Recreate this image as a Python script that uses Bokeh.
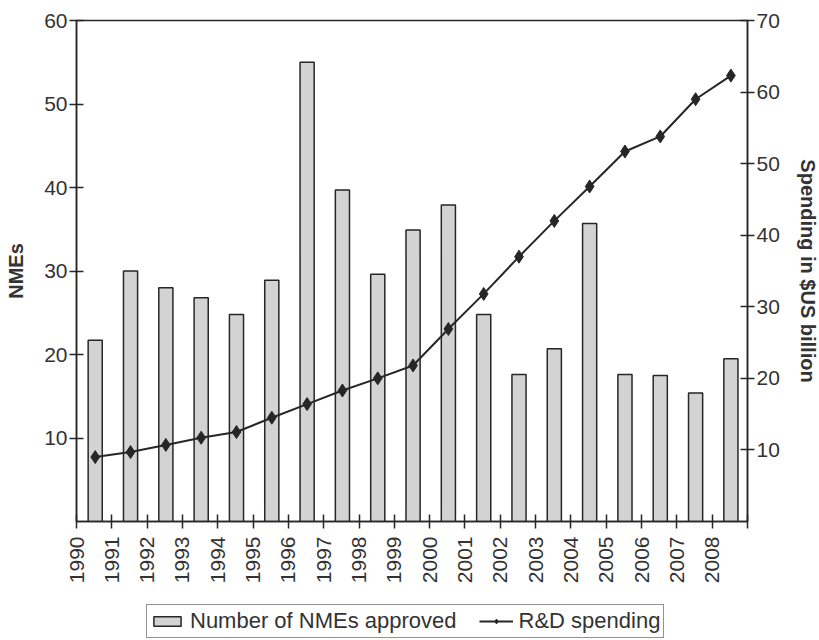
from math import pi
from bokeh.plotting import figure
from bokeh.layouts import column
from bokeh.models import (Range1d, LinearAxis, FixedTicker, Legend, LegendItem,
                          ColumnDataSource)
from bokeh.transform import dodge
from bokeh.embed import file_html
from bokeh.resources import INLINE

# ---- data ----
years = list(range(1990, 2009))
nmes_approved = [21.7, 30.0, 28.0, 26.8, 24.8, 28.9, 55.0, 39.7, 29.6, 34.9,
                 37.9, 24.8, 17.6, 20.7, 35.7, 17.6, 17.5, 15.4, 19.5]
rd_spending = [9.0, 9.7, 10.7, 11.7, 12.5, 14.5, 16.4, 18.3, 20.0, 21.8,
               26.9, 31.8, 37.0, 42.0, 46.8, 51.7, 53.8, 59.0, 62.3]
x_ticks = list(range(1990, 2010))
x_tick_labels = [str(y) for y in years] + [""]
left_ticks = [10, 20, 30, 40, 50, 60]
right_ticks = [10, 20, 30, 40, 50, 60, 70]
series_names = ["Number of NMEs approved", "R&D spending"]

FONT = "Liberation Sans"
INK = "#262626"
BAR_FILL = "#d3d3d3"

src = ColumnDataSource(dict(year=years, nmes=nmes_approved, spend=rd_spending))

p = figure(frame_width=671, frame_height=501, x_range=Range1d(1990, 2009),
           y_range=Range1d(0, 60), output_backend="svg", toolbar_location=None,
           min_border_left=76, min_border_right=71, min_border_top=20,
           min_border_bottom=81)
p.extra_y_ranges = {"spend": Range1d(0, 70)}

p.xgrid.visible = False
p.ygrid.visible = False
p.outline_line_color = INK
p.outline_line_width = 1.5

bar_style = dict(fill_color=BAR_FILL, line_color=INK, line_width=1.5)
line_style = dict(line_color=INK, line_width=2)
pt_style = dict(marker="diamond", fill_color=INK, line_color=INK)

p.vbar(x=dodge("year", 0.53), top="nmes", width=0.4, source=src, **bar_style)
p.line(x=dodge("year", 0.53), y="spend", y_range_name="spend", source=src,
       **line_style)
p.scatter(x=dodge("year", 0.53), y="spend", y_range_name="spend", source=src,
          size=13, **pt_style)

def style_axis(ax):
    ax.axis_line_color = INK
    ax.axis_line_width = 1.5
    ax.major_tick_line_color = INK
    ax.major_tick_line_width = 1.5
    ax.major_tick_in = 7
    ax.major_tick_out = 7
    ax.minor_tick_line_color = None
    ax.major_label_text_font = FONT
    ax.major_label_text_font_size = "21px"
    ax.major_label_text_color = "#333333"
    ax.axis_label_text_font = FONT
    ax.axis_label_text_font_size = "20px"
    ax.axis_label_text_font_style = "bold"
    ax.axis_label_text_color = "#333333"

# x axis
xa = p.xaxis[0]
style_axis(xa)
xa.ticker = FixedTicker(ticks=x_ticks)
xa.major_label_overrides = {t: l for t, l in zip(x_ticks, x_tick_labels)}
xa.major_label_orientation = pi / 2
xa.major_label_standoff = 8

# left axis
ya = p.yaxis[0]
style_axis(ya)
ya.ticker = FixedTicker(ticks=left_ticks)
ya.axis_label = "NMEs"
ya.major_label_standoff = 2
ya.axis_label_standoff = 14

# right axis
ra = LinearAxis(y_range_name="spend", axis_label="Spending in $US billion")
style_axis(ra)
ra.ticker = FixedTicker(ticks=right_ticks)
ra.major_label_standoff = 2
ra.axis_label_standoff = 14
p.add_layout(ra, "right")

# ---- legend strip below the chart ----
# its renderers' data lie below the strip's view, under the legend box
lg = figure(width=818, height=36, x_range=Range1d(1980, 2030),
            y_range=Range1d(1000, 1001),
            x_axis_type=None, y_axis_type=None, output_backend="svg",
            toolbar_location=None, min_border=0)
lg.xgrid.visible = False
lg.ygrid.visible = False
lg.outline_line_color = None
r_bar = lg.vbar(x="year", top="nmes", bottom="nmes", width=0.4, source=src,
                **bar_style)
r_line = lg.line(x="year", y="spend", source=src, **line_style)
r_pt = lg.scatter(x="year", y="spend", source=src, size=9, **pt_style)

legend = Legend(items=[LegendItem(label=series_names[0], renderers=[r_bar]),
                       LegendItem(label=series_names[1], renderers=[r_line, r_pt])],
                orientation="horizontal", location=(70, 0),
                border_line_color=INK, border_line_width=1.5,
                label_text_font=FONT, label_text_font_size="22px",
                label_text_color="#333333", background_fill_color="white",
                background_fill_alpha=1,
                glyph_width=34, glyph_height=12, spacing=22, padding=3,
                label_standoff=6, margin=0)
lg.add_layout(legend, "center")

layout = column(p, lg, spacing=0)
open("out.html", "w").write(file_html(layout, INLINE))
